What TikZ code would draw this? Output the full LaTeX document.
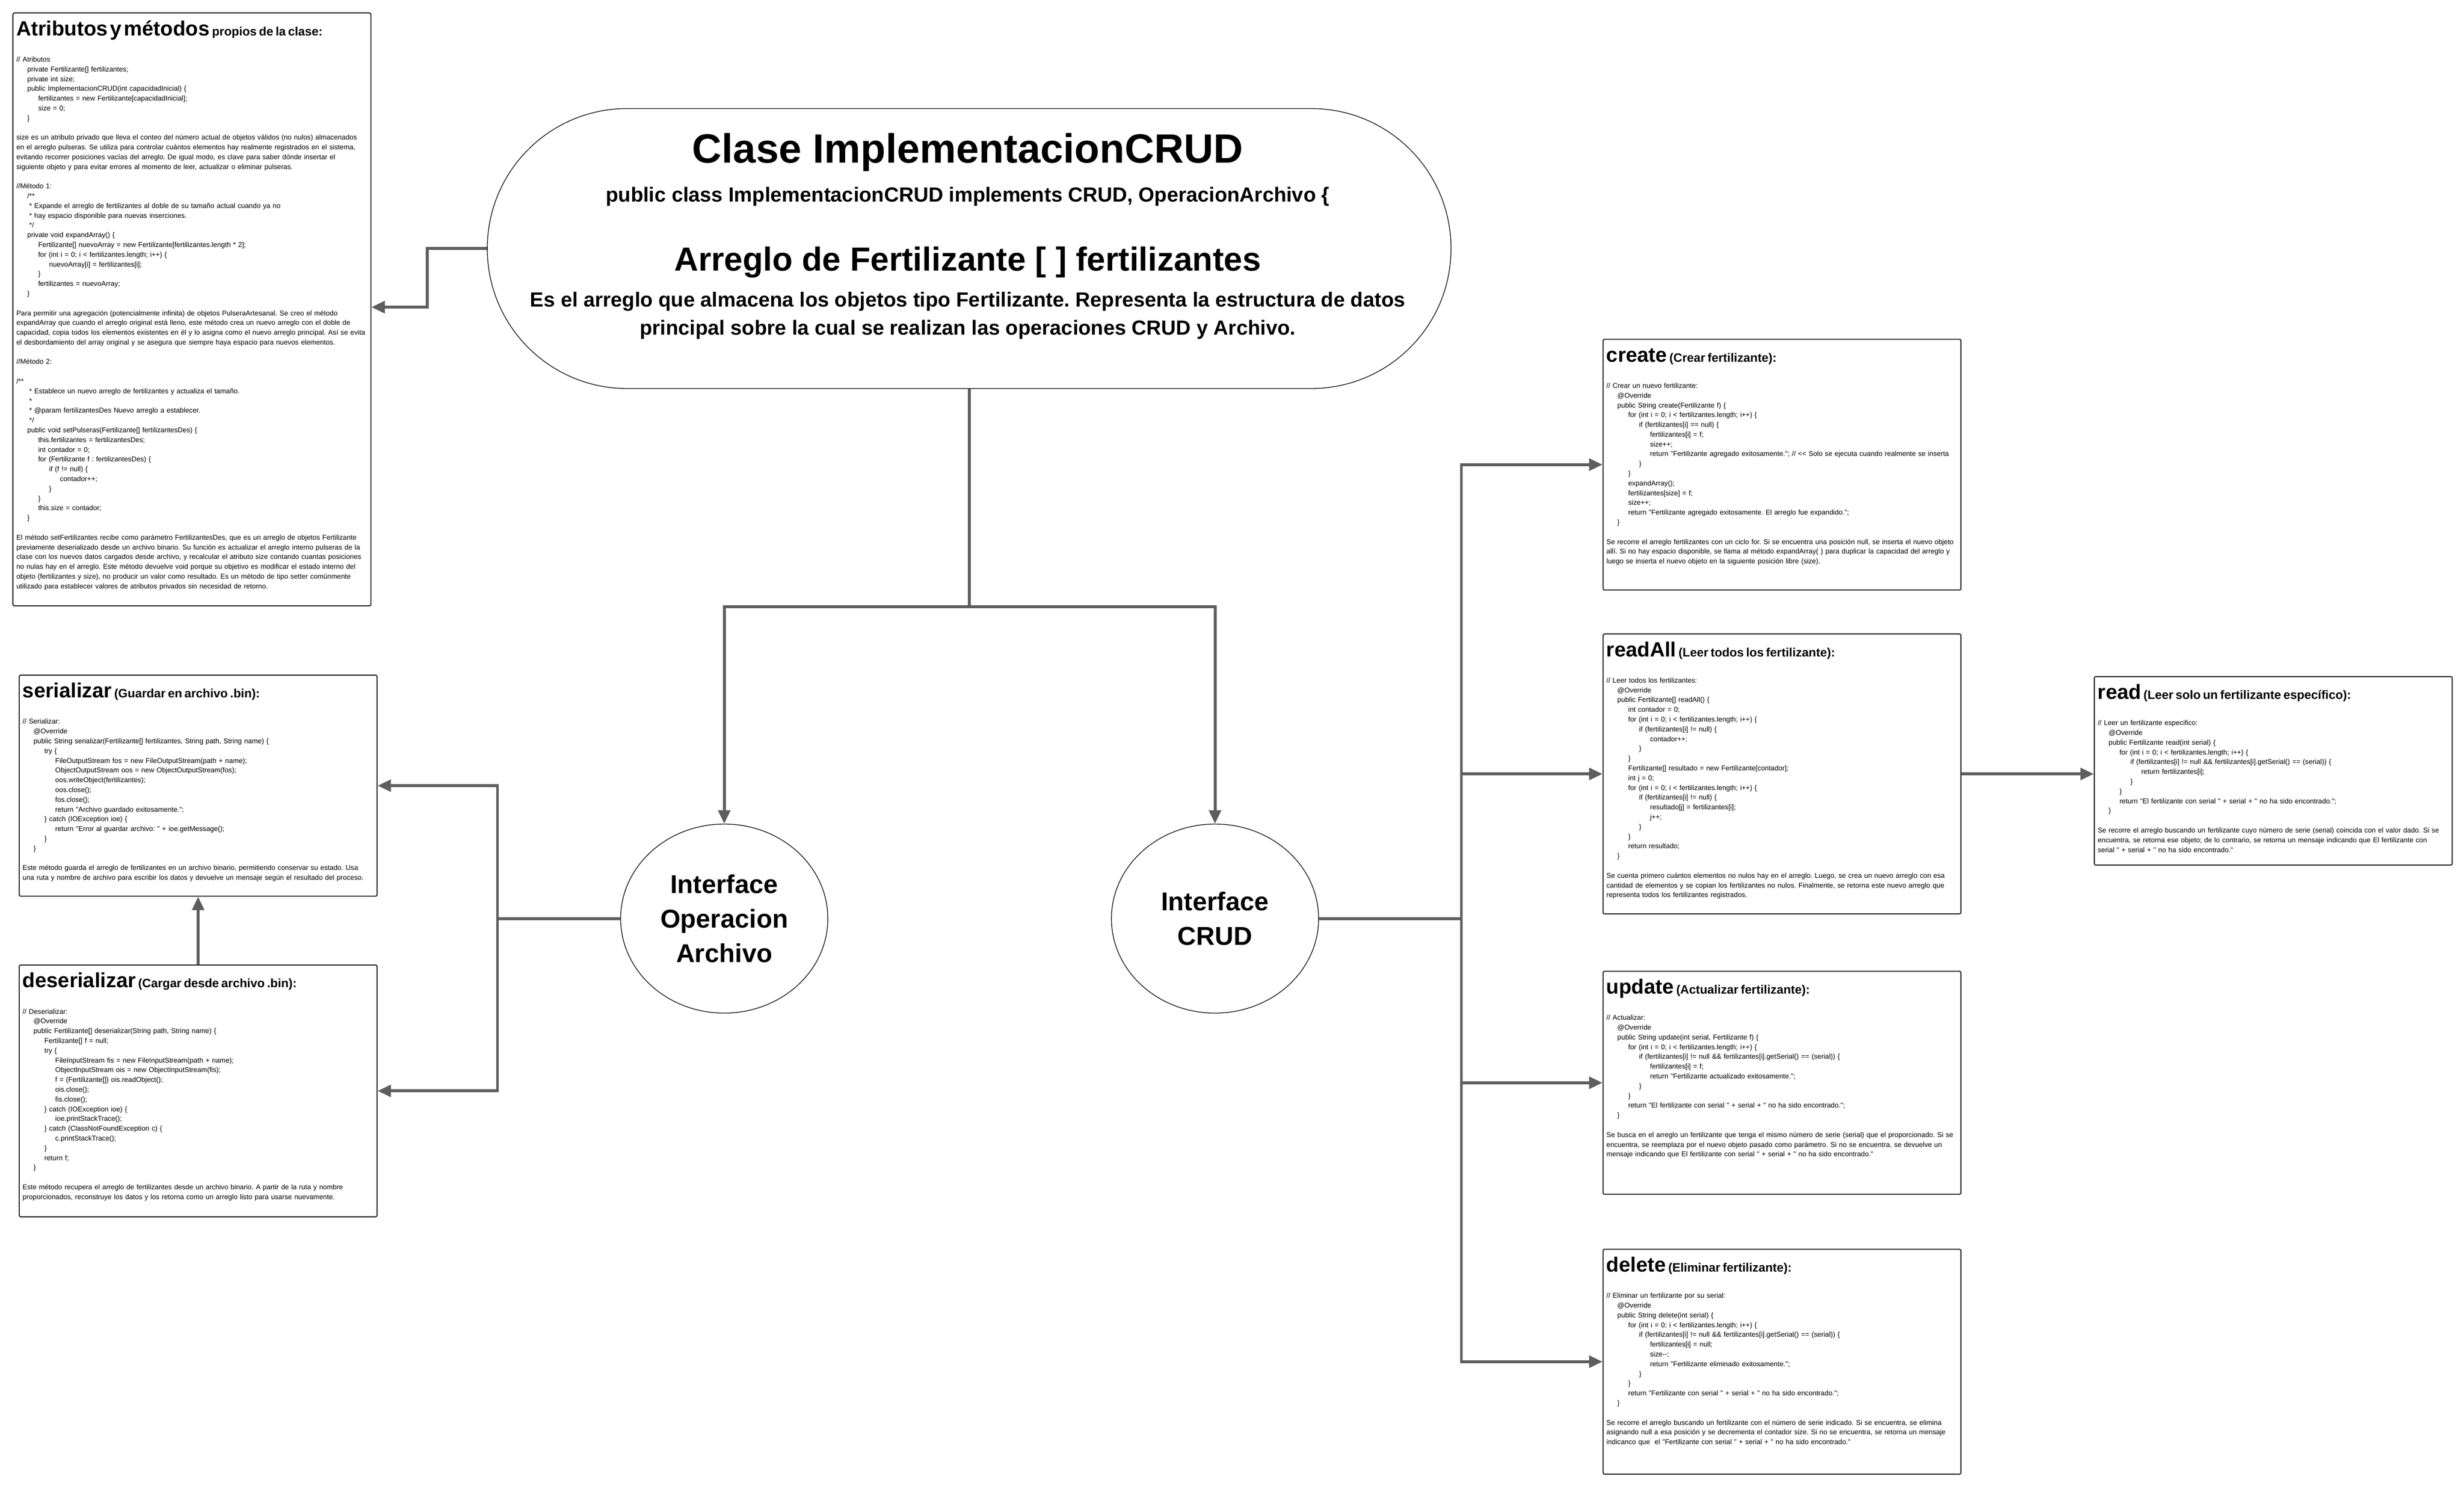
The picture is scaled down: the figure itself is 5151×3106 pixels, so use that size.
\documentclass[tikz,border=0pt]{standalone}
\usepackage{fontspec}
\newfontfamily\letra{Liberation Sans}
\usetikzlibrary{arrows.meta, positioning, shapes.geometric}
\setlength{\parindent}{0pt}
\frenchspacing

\definecolor{griswire}{HTML}{5E5E5E}
\definecolor{bordecaja}{HTML}{262626}

% one indent step in the code listings
\newcommand{\IN}{\hspace*{16.2pt}}
% box heading: method name + short description
\newcommand{\titulocaja}[2]{\rule{0pt}{34.1pt}{\fontsize{30.6pt}{30pt}\selectfont\bfseries #1}{\fontsize{18.1pt}{18pt}\selectfont\bfseries\ #2}\\[24.6pt]}

\begin{document}
\begin{tikzpicture}[
  x=0.025cm, y=-0.025cm,
  every node/.style={font=\letra},
  methodbox/.style={draw=bordecaja, line width=1.6pt, rounded corners=0.08cm, anchor=north west, inner sep=0, minimum width=18.7cm},
  codetext/.style={anchor=north west, inner sep=0, align=left, text width=19cm, font=\letra\fontsize{10.4pt}{14.5pt}\selectfont},
  ifacenode/.style={draw=black, ellipse, line width=1pt, minimum width=10.825cm, minimum height=9.875cm, inner sep=0, align=center, font=\letra\bfseries\fontsize{38.4pt}{51.2pt}\selectfont},
  wire/.style={draw=griswire, line width=4.3pt},
  wirearrow/.style={wire, -{Triangle[length=0.7cm, width=0.62cm]}}
]
\fill[white] (0,0) rectangle (5151,3106);
\useasboundingbox (0,0) rectangle (5151,3106);

% Class node
\node[draw=black, line width=1pt, rounded corners=7.3cm, minimum width=50.35cm, minimum height=14.625cm, inner sep=0] (clase) at (2026,519.5) {};
\node[anchor=base, font=\letra\bfseries\fontsize{60.9pt}{60pt}\selectfont] (clase-tit) at (2023,340) {Clase ImplementacionCRUD};
\node[anchor=base, font=\letra\bfseries\fontsize{30.4pt}{30pt}\selectfont] (clase-decl) at (2023,422) {public class ImplementacionCRUD implements CRUD, OperacionArchivo \{};
\node[anchor=base, font=\letra\bfseries\fontsize{49.5pt}{50pt}\selectfont] (arreglo-tit) at (2023,566) {Arreglo de Fertilizante [ ] fertilizantes};
\node[anchor=base, font=\letra\bfseries\fontsize{30.4pt}{30pt}\selectfont] (arreglo-desc1) at (2023,641) {Es el arreglo que almacena los objetos tipo Fertilizante. Representa la estructura de datos};
\node[anchor=base, font=\letra\bfseries\fontsize{30.4pt}{30pt}\selectfont] (arreglo-desc2) at (2023,700) {principal sobre la cual se realizan las operaciones CRUD y Archivo.};

% Interfaces
\node[ifacenode] (operacion) at (1514,1920) {Interface\\Operacion\\Archivo};
\node[ifacenode] (crud) at (2540,1920) {Interface\\CRUD};

% Attributes box
\node[methodbox, minimum height=30.975cm] (atributos) at (26,26) {};
\node[codetext] (atributos-txt) at ([xshift=0.2cm]atributos.north west) {%
\titulocaja{Atributos y métodos}{propios de la clase:}
// Atributos\\
\IN private Fertilizante[] fertilizantes;\\
\IN private int size;\\
\IN public ImplementacionCRUD(int capacidadInicial) \{\\
\IN\IN fertilizantes = new Fertilizante[capacidadInicial];\\
\IN\IN size = 0;\\
\IN \}\\
\mbox{}\\
size es un atributo privado que lleva el conteo del número actual de objetos válidos (no nulos) almacenados\\
en el arreglo pulseras. Se utiliza para controlar cuántos elementos hay realmente registrados en el sistema,\\
evitando recorrer posiciones vacías del arreglo. De igual modo, es clave para saber dónde insertar el\\
siguiente objeto y para evitar errores al momento de leer, actualizar o eliminar pulseras.\\
\mbox{}\\
//Método 1:\\
\IN /**\\
\IN\hspace*{3pt}* Expande el arreglo de fertilizantes al doble de su tamaño actual cuando ya no\\
\IN\hspace*{3pt}* hay espacio disponible para nuevas inserciones.\\
\IN\hspace*{3pt}*/\\
\IN private void expandArray() \{\\
\IN\IN Fertilizante[] nuevoArray = new Fertilizante[fertilizantes.length * 2];\\
\IN\IN for (int i = 0; i < fertilizantes.length; i++) \{\\
\IN\IN\IN nuevoArray[i] = fertilizantes[i];\\
\IN\IN \}\\
\IN\IN fertilizantes = nuevoArray;\\
\IN \}\\
\mbox{}\\
Para permitir una agregación (potencialmente infinita) de objetos PulseraArtesanal. Se creo el método\\
expandArray que cuando el arreglo original está lleno, este método crea un nuevo arreglo con el doble de\\
capacidad, copia todos los elementos existentes en él y lo asigna como el nuevo arreglo principal. Así se evita\\
el desbordamiento del array original y se asegura que siempre haya espacio para nuevos elementos.\\
\mbox{}\\
//Método 2:\\
\mbox{}\\
/**\\
\IN\hspace*{3pt}* Establece un nuevo arreglo de fertilizantes y actualiza el tamaño.\\
\IN\hspace*{3pt}*\\
\IN\hspace*{3pt}* @param fertilizantesDes Nuevo arreglo a establecer.\\
\IN\hspace*{3pt}*/\\
\IN public void setPulseras(Fertilizante[] fertilizantesDes) \{\\
\IN\IN this.fertilizantes = fertilizantesDes;\\
\IN\IN int contador = 0;\\
\IN\IN for (Fertilizante f : fertilizantesDes) \{\\
\IN\IN\IN if (f != null) \{\\
\IN\IN\IN\IN contador++;\\
\IN\IN\IN \}\\
\IN\IN \}\\
\IN\IN this.size = contador;\\
\IN \}\\
\mbox{}\\
El método setFertilizantes recibe como parámetro FertilizantesDes, que es un arreglo de objetos Fertilizante\\
previamente deserializado desde un archivo binario. Su función es actualizar el arreglo interno pulseras de la\\
clase con los nuevos datos cargados desde archivo, y recalcular el atributo size contando cuantas posiciones\\
no nulas hay en el arreglo. Este método devuelve void porque su objetivo es modificar el estado interno del\\
objeto (fertilizantes y size), no producir un valor como resultado. Es un método de tipo setter comúnmente\\
utilizado para establecer valores de atributos privados sin necesidad de retorno.};

% File operations
\node[methodbox, minimum height=11.55cm] (serial) at (39,1410) {};
\node[codetext] (serial-txt) at ([xshift=0.2cm]serial.north west) {%
\titulocaja{serializar}{(Guardar en archivo .bin):}
// Serializar:\\
\IN @Override\\
\IN public String serializar(Fertilizante[] fertilizantes, String path, String name) \{\\
\IN\IN try \{\\
\IN\IN\IN FileOutputStream fos = new FileOutputStream(path + name);\\
\IN\IN\IN ObjectOutputStream oos = new ObjectOutputStream(fos);\\
\IN\IN\IN oos.writeObject(fertilizantes);\\
\IN\IN\IN oos.close();\\
\IN\IN\IN fos.close();\\
\IN\IN\IN return "Archivo guardado exitosamente.";\\
\IN\IN \} catch (IOException ioe) \{\\
\IN\IN\IN return "Error al guardar archivo: " + ioe.getMessage();\\
\IN\IN \}\\
\IN \}\\
\mbox{}\\
Este método guarda el arreglo de fertilizantes en un archivo binario, permitiendo conservar su estado. Usa\\
una ruta y nombre de archivo para escribir los datos y devuelve un mensaje según el resultado del proceso.};

\node[methodbox, minimum height=13.15cm] (deserial) at (39,2016) {};
\node[codetext] (deserial-txt) at ([xshift=0.2cm]deserial.north west) {%
\titulocaja{deserializar}{(Cargar desde archivo .bin):}
// Deserializar:\\
\IN @Override\\
\IN public Fertilizante[] deserializar(String path, String name) \{\\
\IN\IN Fertilizante[] f = null;\\
\IN\IN try \{\\
\IN\IN\IN FileInputStream fis = new FileInputStream(path + name);\\
\IN\IN\IN ObjectInputStream ois = new ObjectInputStream(fis);\\
\IN\IN\IN f = (Fertilizante[]) ois.readObject();\\
\IN\IN\IN ois.close();\\
\IN\IN\IN fis.close();\\
\IN\IN \} catch (IOException ioe) \{\\
\IN\IN\IN ioe.printStackTrace();\\
\IN\IN \} catch (ClassNotFoundException c) \{\\
\IN\IN\IN c.printStackTrace();\\
\IN\IN \}\\
\IN\IN return f;\\
\IN \}\\
\mbox{}\\
Este método recupera el arreglo de fertilizantes desde un archivo binario. A partir de la ruta y nombre\\
proporcionados, reconstruye los datos y los retorna como un arreglo listo para usarse nuevamente.};

% CRUD operations
\node[methodbox, minimum height=13.1cm] (create) at (3350,708) {};
\node[codetext] (create-txt) at ([xshift=0.2cm]create.north west) {%
\titulocaja{create}{(Crear fertilizante):}
// Crear un nuevo fertilizante:\\
\IN @Override\\
\IN public String create(Fertilizante f) \{\\
\IN\IN for (int i = 0; i < fertilizantes.length; i++) \{\\
\IN\IN\IN if (fertilizantes[i] == null) \{\\
\IN\IN\IN\IN fertilizantes[i] = f;\\
\IN\IN\IN\IN size++;\\
\IN\IN\IN\IN return "Fertilizante agregado exitosamente."; // << Solo se ejecuta cuando realmente se inserta\\
\IN\IN\IN \}\\
\IN\IN \}\\
\IN\IN expandArray();\\
\IN\IN fertilizantes[size] = f;\\
\IN\IN size++;\\
\IN\IN return "Fertilizante agregado exitosamente. El arreglo fue expandido.";\\
\IN \}\\
\mbox{}\\
Se recorre el arreglo fertilizantes con un ciclo for. Si se encuentra una posición null, se inserta el nuevo objeto\\
allí. Si no hay espacio disponible, se llama al método expandArray( ) para duplicar la capacidad del arreglo y\\
luego se inserta el nuevo objeto en la siguiente posición libre (size).};

\node[methodbox, minimum height=14.625cm] (readall) at (3350,1324) {};
\node[codetext] (readall-txt) at ([xshift=0.2cm]readall.north west) {%
\titulocaja{readAll}{(Leer todos los fertilizante):}
// Leer todos los fertilizantes:\\
\IN @Override\\
\IN public Fertilizante[] readAll() \{\\
\IN\IN int contador = 0;\\
\IN\IN for (int i = 0; i < fertilizantes.length; i++) \{\\
\IN\IN\IN if (fertilizantes[i] != null) \{\\
\IN\IN\IN\IN contador++;\\
\IN\IN\IN \}\\
\IN\IN \}\\
\IN\IN Fertilizante[] resultado = new Fertilizante[contador];\\
\IN\IN int j = 0;\\
\IN\IN for (int i = 0; i < fertilizantes.length; i++) \{\\
\IN\IN\IN if (fertilizantes[i] != null) \{\\
\IN\IN\IN\IN resultado[j] = fertilizantes[i];\\
\IN\IN\IN\IN j++;\\
\IN\IN\IN \}\\
\IN\IN \}\\
\IN\IN return resultado;\\
\IN \}\\
\mbox{}\\
Se cuenta primero cuántos elementos no nulos hay en el arreglo. Luego, se crea un nuevo arreglo con esa\\
cantidad de elementos y se copian los fertilizantes no nulos. Finalmente, se retorna este nuevo arreglo que\\
representa todos los fertilizantes registrados.};

\node[methodbox, minimum height=9.85cm] (read) at (4377,1413) {};
\node[codetext] (read-txt) at ([xshift=0.2cm]read.north west) {%
\titulocaja{read}{(Leer solo un fertilizante específico):}
// Leer un fertilizante especifico:\\
\IN @Override\\
\IN public Fertilizante read(int serial) \{\\
\IN\IN for (int i = 0; i < fertilizantes.length; i++) \{\\
\IN\IN\IN if (fertilizantes[i] != null \&\& fertilizantes[i].getSerial() == (serial)) \{\\
\IN\IN\IN\IN return fertilizantes[i];\\
\IN\IN\IN \}\\
\IN\IN \}\\
\IN\IN return "El fertilizante con serial " + serial + " no ha sido encontrado.";\\
\IN \}\\
\mbox{}\\
Se recorre el arreglo buscando un fertilizante cuyo número de serie (serial) coincida con el valor dado. Si se\\
encuentra, se retorna ese objeto; de lo contrario, se retorna un mensaje indicando que El fertilizante con\\
serial " + serial + " no ha sido encontrado."};

\node[methodbox, minimum height=11.65cm] (update) at (3350,2029) {};
\node[codetext] (update-txt) at ([xshift=0.2cm]update.north west) {%
\titulocaja{update}{(Actualizar fertilizante):}
// Actualizar:\\
\IN @Override\\
\IN public String update(int serial, Fertilizante f) \{\\
\IN\IN for (int i = 0; i < fertilizantes.length; i++) \{\\
\IN\IN\IN if (fertilizantes[i] != null \&\& fertilizantes[i].getSerial() == (serial)) \{\\
\IN\IN\IN\IN fertilizantes[i] = f;\\
\IN\IN\IN\IN return "Fertilizante actualizado exitosamente.";\\
\IN\IN\IN \}\\
\IN\IN \}\\
\IN\IN return "El fertilizante con serial " + serial + " no ha sido encontrado.";\\
\IN \}\\
\mbox{}\\
Se busca en el arreglo un fertilizante que tenga el mismo número de serie (serial) que el proporcionado. Si se\\
encuentra, se reemplaza por el nuevo objeto pasado como parámetro. Si no se encuentra, se devuelve un\\
mensaje indicando que El fertilizante con serial " + serial + " no ha sido encontrado."};

\node[methodbox, minimum height=11.75cm] (delete) at (3350,2610) {};
\node[codetext] (delete-txt) at ([xshift=0.2cm]delete.north west) {%
\titulocaja{delete}{(Eliminar fertilizante):}
// Eliminar un fertilizante por su serial:\\
\IN @Override\\
\IN public String delete(int serial) \{\\
\IN\IN for (int i = 0; i < fertilizantes.length; i++) \{\\
\IN\IN\IN if (fertilizantes[i] != null \&\& fertilizantes[i].getSerial() == (serial)) \{\\
\IN\IN\IN\IN fertilizantes[i] = null;\\
\IN\IN\IN\IN size--;\\
\IN\IN\IN\IN return "Fertilizante eliminado exitosamente.";\\
\IN\IN\IN \}\\
\IN\IN \}\\
\IN\IN return "Fertilizante con serial " + serial + " no ha sido encontrado.";\\
\IN \}\\
\mbox{}\\
Se recorre el arreglo buscando un fertilizante con el número de serie indicado. Si se encuentra, se elimina\\
asignando null a esa posición y se decrementa el contador size. Si no se encuentra, se retorna un mensaje\\
indicanco que\ \ el "Fertilizante con serial " + serial + " no ha sido encontrado."};

% Edges
% Class to attributes
\coordinate (codo-atrib) at (893,642);
\draw[wirearrow] (clase.west) -| (codo-atrib) -- (codo-atrib -| atributos.east);

% Class to interfaces
\coordinate (bifurca) at (clase.south |- 0,1268);
\draw[wire] (clase.south) -- (bifurca);
\draw[wirearrow] (bifurca) -| (operacion.north);
\draw[wirearrow] (bifurca) -| (crud.north);

% OperacionArchivo to its methods
\coordinate (tronco-op) at (1040,1920);
\draw[wire] (operacion.west) -- (tronco-op);
\draw[wirearrow] (tronco-op) |- (serial.east);
\draw[wirearrow] (tronco-op) |- (deserial.east);
\draw[wirearrow] (deserial.north) -- (serial.south);

% CRUD to its methods
\coordinate (tronco-crud) at (3055,1920);
\draw[wire] (crud.east) -- (tronco-crud);
\draw[wirearrow] (tronco-crud) |- (create.west);
\draw[wirearrow] (tronco-crud) |- (readall.west);
\draw[wirearrow] (tronco-crud) |- (update.west);
\draw[wirearrow] (tronco-crud) |- (delete.west);
\draw[wirearrow] (readall.east) -- (readall.east -| read.west);
\end{tikzpicture}
\end{document}
